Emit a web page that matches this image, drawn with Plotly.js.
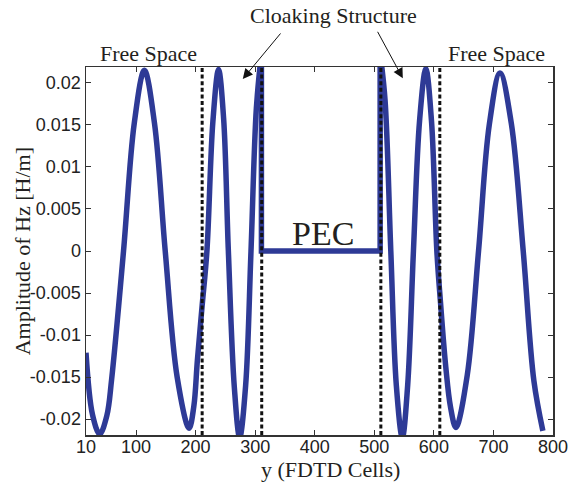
<!DOCTYPE html>
<html>
<head>
<meta charset="utf-8">
<script src="https://cdn.plot.ly/plotly-3.0.1.min.js"></script>
<style>html,body{margin:0;padding:0;background:#fff;}#chart{width:574px;height:485px;}</style>
</head>
<body>
<div id="chart"></div>
<script>
// Left free space + left cloaking region (y in FDTD cells, amplitude in H/m)
const leftCells = [16, 27, 39, 51, 59, 79, 97, 114, 131, 149, 169, 189, 197, 203, 211, 219, 229, 238.5, 247, 255, 265, 274, 284, 293, 302, 310.5];
const leftAmp   = [-0.0121, -0.0195, -0.0218, -0.0196, -0.0153, 0, 0.0152, 0.0215, 0.0152, 0, -0.0150, -0.0211, -0.0185, -0.0130, -0.0065, 0, 0.0154, 0.0216, 0.0158, 0, -0.0162, -0.0222, -0.0160, 0, 0.0170, 0.0235];
// PEC region (field is zero)
const pecCells = [310.5, 310.5, 509.8, 509.8];
const pecAmp   = [0.0235, 0, 0, 0.0235];
// Right cloaking region + right free space
const rightCells = [509.8, 518, 527.7, 537, 547, 556, 565.7, 576, 586.5, 596, 605, 611, 620, 628, 637, 656, 675, 693, 711, 730, 750, 768, 783];
const rightAmp   = [0.0235, 0.0180, 0, -0.0160, -0.0222, -0.0160, 0, 0.0155, 0.0217, 0.0155, 0, -0.0060, -0.0138, -0.0186, -0.0210, -0.0148, 0, 0.0150, 0.0212, 0.0152, 0, -0.0155, -0.0214];
// Region boundaries (dashed lines)
const boundaries = [211, 311, 511, 610];
// Ticks
const xTickVals = [16, 100, 200, 300, 400, 500, 600, 700, 800];
const xTickText = ["10", "100", "200", "300", "400", "500", "600", "700", "800"];
const yTickVals = [-0.02, -0.015, -0.01, -0.005, 0, 0.005, 0.01, 0.015, 0.02];
const yTickText = ["-0.02", "-0.015", "-0.01", "-0.005", "0", "0.005", "0.01", "0.015", "0.02"];

const blue = '#2E3A96';
const serif = 'Liberation Serif, Times New Roman, serif';
const sans = 'Liberation Sans, Arial, sans-serif';
const lineW = 5.5;

const traces = [
  {x: leftCells, y: leftAmp, mode: 'lines', line: {color: blue, width: lineW, shape: 'spline'}, showlegend: false, hoverinfo: 'skip'},
  {x: pecCells, y: pecAmp, mode: 'lines', line: {color: blue, width: lineW}, showlegend: false, hoverinfo: 'skip'},
  {x: rightCells, y: rightAmp, mode: 'lines', line: {color: blue, width: lineW, shape: 'spline'}, showlegend: false, hoverinfo: 'skip'}
];

const shapes = boundaries.map(b => ({
  type: 'line', xref: 'x', yref: 'paper', x0: b, x1: b, y0: 0, y1: 1,
  line: {color: '#111', width: 3, dash: '4px,2.6px'}, layer: 'above'
}));

const txtColor = '#231F20';
const annotations = [
  {text: 'Free Space', xref: 'paper', yref: 'paper', x: 0.1333, y: 1.038, xanchor: 'center', yanchor: 'middle', showarrow: false, font: {family: serif, size: 22, color: txtColor}},
  {text: 'Free Space', xref: 'paper', yref: 'paper', x: 0.879, y: 1.038, xanchor: 'center', yanchor: 'middle', showarrow: false, font: {family: serif, size: 22, color: txtColor}},
  {text: 'Cloaking Structure', xref: 'paper', yref: 'paper', x: 0.531, y: 1.141, xanchor: 'center', yanchor: 'middle', showarrow: false, font: {family: serif, size: 22, color: txtColor}},
  {text: 'PEC', xref: 'paper', yref: 'paper', x: 0.5078, y: 0.5476, xanchor: 'center', yanchor: 'middle', showarrow: false, font: {family: serif, size: 34, color: txtColor}},
  {text: '', xref: 'paper', yref: 'paper', x: 0.3357, y: 0.9674, ax: 39, ay: -47, showarrow: true, arrowhead: 2, arrowsize: 2, arrowwidth: 1, arrowcolor: '#111'},
  {text: '', xref: 'paper', yref: 'paper', x: 0.6784, y: 0.9693, ax: -26, ay: -48, showarrow: true, arrowhead: 2, arrowsize: 2, arrowwidth: 1, arrowcolor: '#111'},
  {text: 'Amplitude of Hz [H/m]', xref: 'paper', yref: 'paper', x: -0.1363, y: 0.5, xanchor: 'center', yanchor: 'middle', textangle: -90, showarrow: false, font: {family: serif, size: 22, color: txtColor}},
  {text: 'y (FDTD Cells)', xref: 'paper', yref: 'paper', x: 0.524, y: -0.095, xanchor: 'center', yanchor: 'middle', showarrow: false, font: {family: serif, size: 22, color: txtColor}}
];

const axisCommon = {
  showgrid: false, zeroline: false, showline: true, linecolor: '#333', linewidth: 1.5,
  mirror: 'ticks', ticks: 'inside', ticklen: 5, tickwidth: 1, tickcolor: '#333',
  tickfont: {family: sans, size: 18, color: '#222'}
};

const layout = {
  width: 574, height: 485,
  margin: {l: 85.7, r: 21, t: 67, b: 50, pad: 0},
  paper_bgcolor: '#fff', plot_bgcolor: '#fff',
  xaxis: Object.assign({}, axisCommon, {
    range: [16, 800], tickmode: 'array', tickvals: xTickVals, ticktext: xTickText,
    ticklabelstandoff: -5
  }),
  yaxis: Object.assign({}, axisCommon, {
    range: [-0.0219, 0.0219], tickmode: 'array', tickvals: yTickVals, ticktext: yTickText
  }),
  shapes: shapes,
  annotations: annotations
};

Plotly.newPlot('chart', traces, layout, {displayModeBar: false, staticPlot: true});
</script>
</body>
</html>
